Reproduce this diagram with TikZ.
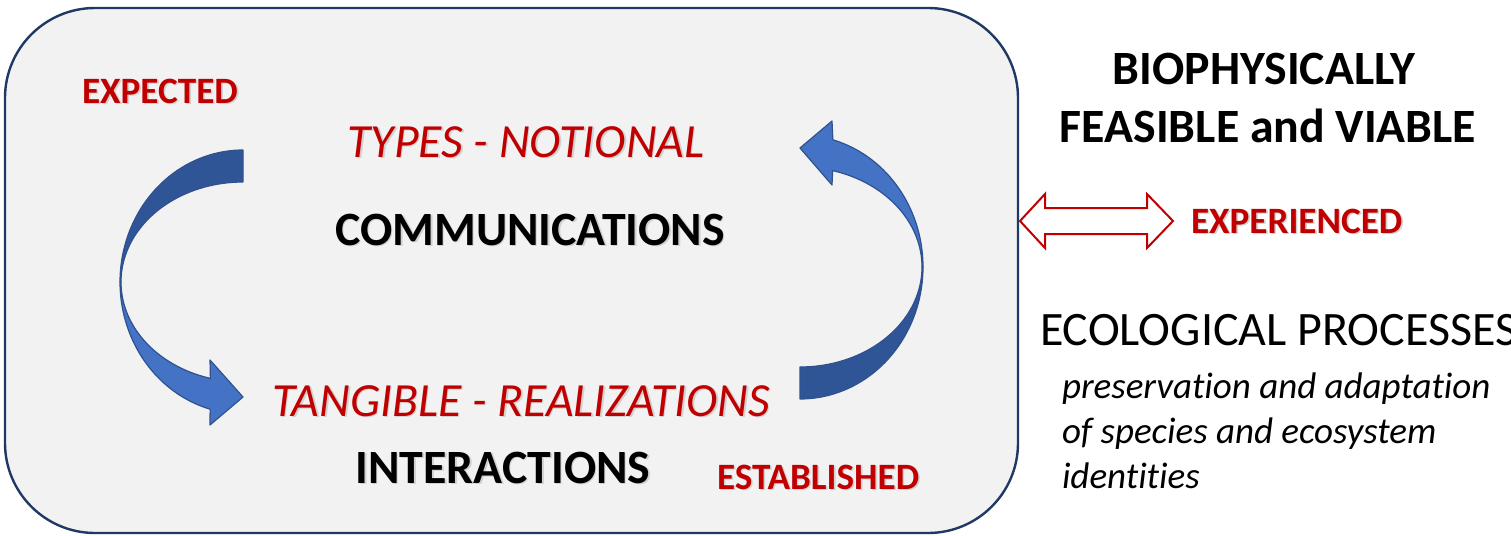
\documentclass[tikz,border=0pt]{standalone}
\usepackage{fontspec}
\setmainfont{Carlito}[Ligatures=NoCommon]
\usetikzlibrary{positioning}
\definecolor{boxfill}{HTML}{F2F2F2}
\definecolor{boxline}{HTML}{1F3864}
\definecolor{labelred}{HTML}{C00000}
\definecolor{bandlight}{HTML}{4472C4}
\definecolor{banddark}{HTML}{2F5597}
\definecolor{bandline}{HTML}{2F528F}
\newcommand{\shadowtext}[1]{\makebox[0pt][l]{\hspace{1.6pt}\raisebox{-1.6pt}{\textcolor{black!18}{#1}}}#1}

\begin{document}
\begin{tikzpicture}[
    x=1pt, y=-1pt,
    every node/.style={inner sep=0pt, outer sep=0pt},
    bigtext/.style={font=\fontsize{47.8}{57}\selectfont\bfseries},
    redital/.style={font=\fontsize{47.6}{57}\selectfont\itshape, text=labelred},
    redtag/.style={font=\fontsize{37.2}{44}\selectfont\bfseries, text=labelred},
    plaintext/.style={font=\fontsize{48}{57}\selectfont},
    smallital/.style={font=\fontsize{37}{45}\selectfont\itshape},
    darkband/.style={fill=banddark, draw=bandline, line width=1.2pt, line join=round},
    lightband/.style={fill=bandlight, draw=bandline, line width=1.2pt, line join=round},
    frame/.style={fill=boxfill, draw=boxline, line width=2.4pt, rounded corners=90pt},
    hollow/.style={fill=white, draw=labelred, line width=2pt, line join=miter}
]
    \useasboundingbox (0,0) rectangle (1511,535);

    % Frame
    \draw[frame] (5,8) rectangle (1018,533);

    % Left band, upper part
    \draw[darkband] plot[domain=-90:-180, samples=40] ({243+123*cos(\x)},{282+132*sin(\x)})
        -- plot[domain=-180:-90, samples=40] ({243+122*cos(\x)},{282+100*sin(\x)}) -- cycle;
    % Left band, lower part with head
    \draw[lightband] plot[domain=180:105.5, samples=40] ({243+123*cos(\x)},{282+132*sin(\x)})
        -- (210,425) -- (243,397) -- (210,360)
        -- plot[domain=105.5:180, samples=40] ({243+122*cos(\x)},{282+100*sin(\x)}) -- cycle;

    % Right band, lower part
    \draw[darkband] plot[domain=90:0, samples=40] ({800+123*cos(\x)},{267+132*sin(\x)})
        -- plot[domain=0:90, samples=40] ({800+122*cos(\x)},{267+100*sin(\x)}) -- cycle;
    % Right band, upper part with head
    \draw[lightband] plot[domain=0:-74.5, samples=40] ({800+123*cos(\x)},{267+132*sin(\x)})
        -- (832,121) -- (800,148) -- (832,185)
        -- plot[domain=-74.5:0, samples=40] ({800+122*cos(\x)},{267+100*sin(\x)}) -- cycle;

    % Texts inside the frame
    \node[redtag, anchor=base west] (expected) at (82,103) {\shadowtext{EXPECTED}};
    \node[redital, anchor=base] (types) at (526,157) {\shadowtext{TYPES - NOTIONAL}};
    \node[bigtext, anchor=base] (comms) at (530,245) {\shadowtext{COMMUNICATIONS}};
    \node[redital, anchor=base] (tangible) at (521,416) {\shadowtext{TANGIBLE - REALIZATIONS}};
    \node[bigtext, anchor=base] (interact) at (503,483) {\shadowtext{INTERACTIONS}};
    \node[redtag, anchor=base west] (established) at (717,489) {\shadowtext{ESTABLISHED}};

    % Double arrow
    \draw[hollow] (1020,221) -- (1045,194) -- (1045,208) -- (1147,208) -- (1147,194)
        -- (1173,221) -- (1147,248) -- (1147,234) -- (1045,234) -- (1045,248) -- cycle;

    % Texts outside the frame
    \node[bigtext, anchor=base] (bio) at (1264,84) {BIOPHYSICALLY};
    \node[bigtext, anchor=base] (feasible) at (1268,142) {FEASIBLE and VIABLE};
    \node[redtag, anchor=base west] (experienced) at (1191,233) {\shadowtext{EXPERIENCED}};
    \node[plaintext, anchor=base west] (eco) at (1040,345) {ECOLOGICAL PROCESSES};
    \node[smallital, anchor=base west] (preserve) at (1062,398) {preservation and adaptation};
    \node[smallital, anchor=base west] (species) at (1062,443) {of species and ecosystem};
    \node[smallital, anchor=base west] (ident) at (1062,488) {identities};
\end{tikzpicture}
\end{document}
